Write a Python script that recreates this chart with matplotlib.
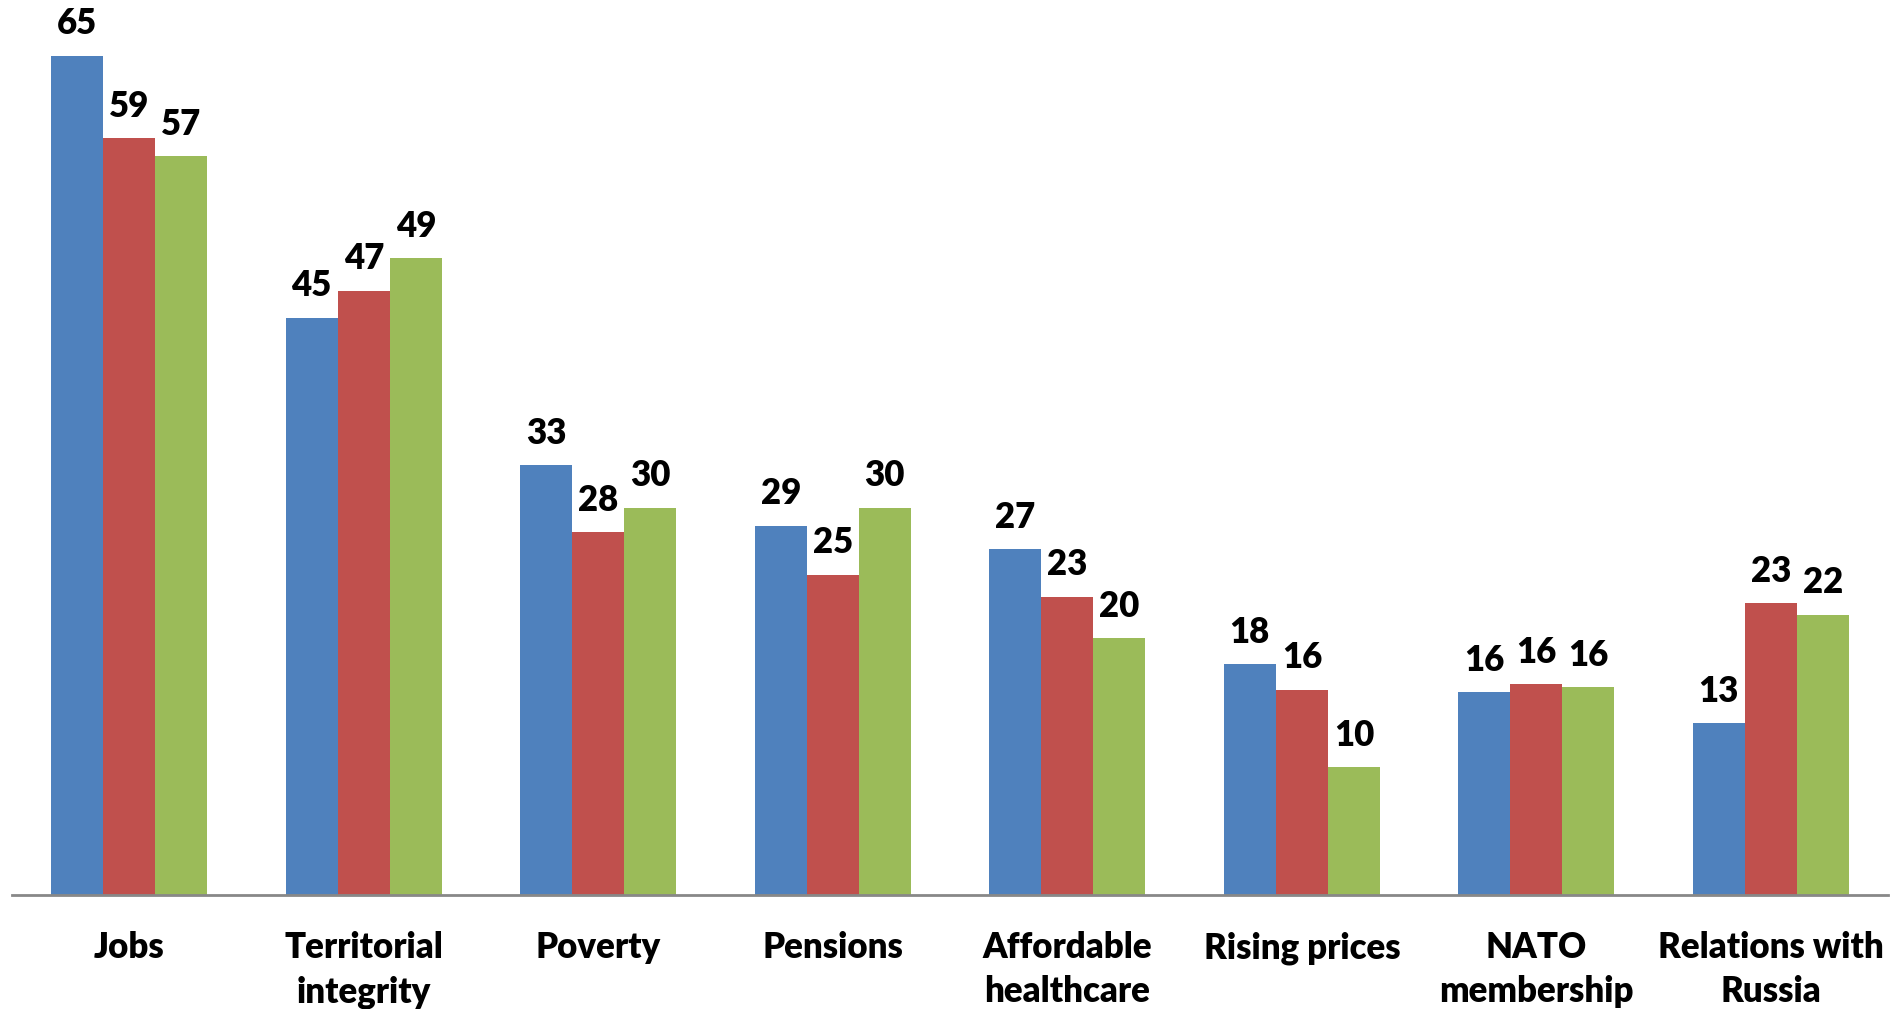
import numpy as np
import matplotlib.pyplot as plt

plt.rcParams['font.family'] = ['Lato', 'DejaVu Sans']

categories = ["Jobs", "Territorial\nintegrity", "Poverty", "Pensions",
              "Affordable\nhealthcare", "Rising prices", "NATO\nmembership",
              "Relations with\nRussia"]
# bar heights; labels show the rounded values
series_a = [65.0, 44.7, 33.3, 28.6, 26.8, 17.9, 15.7, 13.3]
series_b = [58.6, 46.8, 28.1, 24.8, 23.1, 15.9, 16.3, 22.6]
series_c = [57.2, 49.3, 30.0, 30.0, 19.9, 9.9, 16.1, 21.7]
colors = ['#4F81BD', '#C0504D', '#9BBB59']

fig = plt.figure(figsize=(18.99, 10.09), dpi=100)
ax = fig.add_axes([0.0063, 0.113, 0.988, 0.887])

x = np.arange(len(categories))
w = 0.222
for i, (vals, c) in enumerate(zip([series_a, series_b, series_c], colors)):
    bars = ax.bar(x + (i - 1) * w, vals, w, color=c, edgecolor='none')
    ax.bar_label(bars, labels=[f"{round(v)}" for v in vals], padding=11,
                 fontsize=25, fontweight='heavy')

ax.set_xlim(-0.5, len(categories) - 0.5)
ax.set_ylim(0, 69.3)
ax.set_xticks(x)
ax.set_xticklabels(categories, fontsize=25, fontweight='heavy', linespacing=1.42)
ax.tick_params(axis='x', length=0, pad=26)
ax.set_yticks([])
for s in ['top', 'right', 'left']:
    ax.spines[s].set_visible(False)
ax.spines['bottom'].set_color('#888888')
ax.spines['bottom'].set_linewidth(2)

fig.savefig('out.png', dpi=100)
